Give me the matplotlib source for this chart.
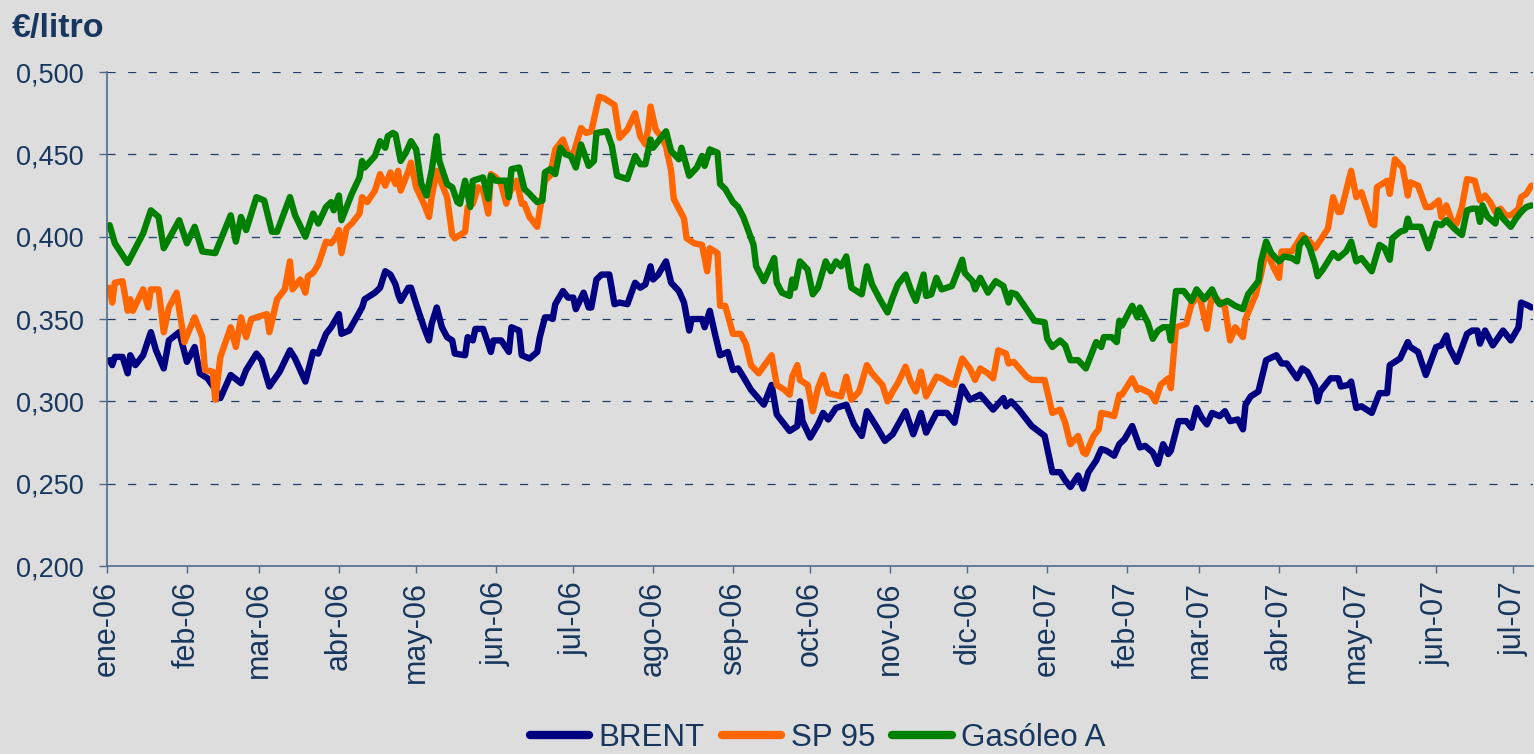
import matplotlib
matplotlib.use("Agg")
import matplotlib.pyplot as plt
import pandas as pd

# ---------------- data ----------------
brent_dates = [
 "2006-01-02","2006-01-03","2006-01-04","2006-01-07","2006-01-09","2006-01-10","2006-01-12","2006-01-15","2006-01-18","2006-01-20",
 "2006-01-23","2006-01-25","2006-01-29","2006-02-01","2006-02-04","2006-02-06","2006-02-09","2006-02-13","2006-02-14","2006-02-18",
 "2006-02-22","2006-02-24","2006-02-28","2006-03-02","2006-03-05","2006-03-09","2006-03-13","2006-03-15","2006-03-19","2006-03-22",
 "2006-03-24","2006-03-27","2006-03-29","2006-04-01","2006-04-02","2006-04-05","2006-04-10","2006-04-11","2006-04-15","2006-04-17",
 "2006-04-19","2006-04-21","2006-04-23","2006-04-24","2006-04-25","2006-04-28","2006-04-29","2006-05-01","2006-05-04","2006-05-06",
 "2006-05-07","2006-05-09","2006-05-11","2006-05-13","2006-05-15","2006-05-16","2006-05-20","2006-05-21","2006-05-23","2006-05-24",
 "2006-05-27","2006-05-30","2006-05-31","2006-06-03","2006-06-06","2006-06-07","2006-06-10","2006-06-11","2006-06-14","2006-06-17",
 "2006-06-18","2006-06-20","2006-06-22","2006-06-23","2006-06-24","2006-06-27","2006-06-29","2006-07-01","2006-07-02","2006-07-05",
 "2006-07-07","2006-07-08","2006-07-10","2006-07-12","2006-07-15","2006-07-17","2006-07-19","2006-07-22","2006-07-25","2006-07-27",
 "2006-07-29","2006-07-31","2006-08-01","2006-08-03","2006-08-06","2006-08-08","2006-08-11","2006-08-13","2006-08-15","2006-08-16",
 "2006-08-20","2006-08-21","2006-08-23","2006-08-25","2006-08-27","2006-08-30","2006-09-01","2006-09-03","2006-09-05","2006-09-08",
 "2006-09-13","2006-09-16","2006-09-18","2006-09-20","2006-09-23","2006-09-26","2006-09-27","2006-09-28","2006-10-01","2006-10-04",
 "2006-10-06","2006-10-08","2006-10-11","2006-10-15","2006-10-18","2006-10-21","2006-10-23","2006-10-27","2006-10-30","2006-11-02",
 "2006-11-07","2006-11-10","2006-11-13","2006-11-15","2006-11-19","2006-11-23","2006-11-26","2006-11-29","2006-12-02","2006-12-06",
 "2006-12-11","2006-12-15","2006-12-16","2006-12-18","2006-12-21","2006-12-26","2006-12-31","2007-01-03","2007-01-06","2007-01-08",
 "2007-01-10","2007-01-13","2007-01-15","2007-01-17","2007-01-20","2007-01-22","2007-01-24","2007-01-27","2007-01-29","2007-01-31",
 "2007-02-03","2007-02-06","2007-02-08","2007-02-11","2007-02-13","2007-02-15","2007-02-17","2007-02-18","2007-02-21","2007-02-24",
 "2007-02-26","2007-02-28","2007-03-02","2007-03-04","2007-03-06","2007-03-09","2007-03-11","2007-03-13","2007-03-16","2007-03-18",
 "2007-03-19","2007-03-21","2007-03-24","2007-03-27","2007-03-31","2007-04-02","2007-04-04","2007-04-08","2007-04-10","2007-04-12",
 "2007-04-15","2007-04-16","2007-04-17","2007-04-21","2007-04-24","2007-04-25","2007-04-28","2007-04-29","2007-05-01","2007-05-03",
 "2007-05-07","2007-05-10","2007-05-13","2007-05-14","2007-05-18","2007-05-21","2007-05-22","2007-05-25","2007-05-28","2007-06-01",
 "2007-06-03","2007-06-05","2007-06-06","2007-06-09","2007-06-13","2007-06-15","2007-06-17","2007-06-18","2007-06-20","2007-06-23",
 "2007-06-27","2007-06-30","2007-07-03","2007-07-04","2007-07-07","2007-07-08"]
brent_values = [
 0.325,0.322,0.327,0.327,0.317,0.328,0.322,0.328,0.342,0.331,
 0.320,0.337,0.342,0.324,0.333,0.317,0.314,0.305,0.302,0.316,
 0.311,0.319,0.329,0.325,0.309,0.318,0.331,0.326,0.312,0.330,
 0.329,0.341,0.345,0.353,0.341,0.343,0.357,0.362,0.366,0.369,
 0.379,0.377,0.371,0.365,0.361,0.369,0.369,0.359,0.345,0.337,
 0.347,0.357,0.345,0.339,0.337,0.329,0.328,0.339,0.337,0.344,
 0.344,0.330,0.337,0.337,0.330,0.345,0.343,0.328,0.326,0.330,
 0.339,0.351,0.351,0.350,0.359,0.367,0.363,0.363,0.356,0.366,
 0.357,0.357,0.374,0.377,0.377,0.359,0.360,0.359,0.372,0.369,
 0.371,0.382,0.374,0.377,0.385,0.372,0.367,0.360,0.343,0.350,
 0.350,0.345,0.355,0.341,0.328,0.330,0.319,0.320,0.315,0.307,
 0.298,0.310,0.292,0.288,0.282,0.285,0.300,0.288,0.278,0.286,
 0.293,0.289,0.296,0.298,0.286,0.279,0.294,0.284,0.276,0.280,
 0.294,0.280,0.293,0.281,0.293,0.293,0.287,0.309,0.301,0.304,
 0.295,0.302,0.297,0.300,0.295,0.285,0.279,0.257,0.257,0.252,
 0.248,0.255,0.247,0.257,0.264,0.271,0.270,0.267,0.274,0.277,
 0.285,0.272,0.273,0.269,0.262,0.274,0.268,0.270,0.288,0.288,
 0.284,0.296,0.290,0.286,0.293,0.291,0.294,0.288,0.289,0.283,
 0.298,0.303,0.306,0.325,0.328,0.323,0.323,0.314,0.320,0.318,
 0.309,0.300,0.306,0.314,0.314,0.309,0.310,0.312,0.296,0.297,
 0.293,0.305,0.305,0.322,0.326,0.336,0.333,0.330,0.316,0.333,
 0.334,0.340,0.333,0.324,0.341,0.343,0.343,0.335,0.343,0.334,
 0.343,0.337,0.345,0.360,0.358,0.357]

sp95_dates = [
 "2006-01-02","2006-01-03","2006-01-04","2006-01-07","2006-01-09","2006-01-10","2006-01-11","2006-01-15","2006-01-17","2006-01-18",
 "2006-01-21","2006-01-23","2006-01-25","2006-01-28","2006-01-31","2006-02-04","2006-02-07","2006-02-08","2006-02-11","2006-02-12",
 "2006-02-14","2006-02-18","2006-02-20","2006-02-22","2006-02-24","2006-02-26","2006-03-04","2006-03-05","2006-03-08","2006-03-11",
 "2006-03-13","2006-03-14","2006-03-17","2006-03-19","2006-03-20","2006-03-22","2006-03-24","2006-03-27","2006-03-29","2006-03-31",
 "2006-04-01","2006-04-02","2006-04-04","2006-04-06","2006-04-09","2006-04-10","2006-04-12","2006-04-15","2006-04-17","2006-04-19",
 "2006-04-21","2006-04-23","2006-04-24","2006-04-25","2006-04-28","2006-04-29","2006-05-01","2006-05-04","2006-05-06","2006-05-07",
 "2006-05-09","2006-05-11","2006-05-13","2006-05-15","2006-05-16","2006-05-20","2006-05-21","2006-05-23","2006-05-25","2006-05-27",
 "2006-05-29","2006-05-30","2006-06-01","2006-06-03","2006-06-05","2006-06-06","2006-06-09","2006-06-11","2006-06-12","2006-06-14",
 "2006-06-17","2006-06-18","2006-06-20","2006-06-22","2006-06-24","2006-06-27","2006-06-29","2006-07-01","2006-07-04","2006-07-06",
 "2006-07-08","2006-07-11","2006-07-13","2006-07-17","2006-07-19","2006-07-22","2006-07-25","2006-07-27","2006-07-29","2006-07-30",
 "2006-07-31","2006-08-02","2006-08-04","2006-08-06","2006-08-08","2006-08-09","2006-08-11","2006-08-13","2006-08-14","2006-08-17",
 "2006-08-20","2006-08-22","2006-08-23","2006-08-26","2006-08-27","2006-08-29","2006-09-01","2006-09-04","2006-09-06","2006-09-08",
 "2006-09-11","2006-09-16","2006-09-18","2006-09-21","2006-09-23","2006-09-24","2006-09-26","2006-09-27","2006-09-30","2006-10-02",
 "2006-10-04","2006-10-06","2006-10-08","2006-10-13","2006-10-15","2006-10-17","2006-10-20","2006-10-23","2006-10-25","2006-10-29",
 "2006-10-31","2006-11-02","2006-11-04","2006-11-07","2006-11-09","2006-11-11","2006-11-13","2006-11-15","2006-11-19","2006-11-21",
 "2006-11-24","2006-11-26","2006-11-29","2006-12-02","2006-12-04","2006-12-06","2006-12-09","2006-12-11","2006-12-13","2006-12-16",
 "2006-12-17","2006-12-19","2006-12-24","2006-12-26","2006-12-31","2007-01-03","2007-01-06","2007-01-08","2007-01-10","2007-01-13",
 "2007-01-15","2007-01-16","2007-01-19","2007-01-21","2007-01-22","2007-01-25","2007-01-27","2007-01-29","2007-01-30","2007-02-03",
 "2007-02-05","2007-02-06","2007-02-10","2007-02-12","2007-02-14","2007-02-17","2007-02-18","2007-02-20","2007-02-22","2007-02-24",
 "2007-02-26","2007-03-01","2007-03-04","2007-03-06","2007-03-08","2007-03-11","2007-03-13","2007-03-15","2007-03-18","2007-03-19",
 "2007-03-23","2007-03-25","2007-03-27","2007-03-30","2007-04-01","2007-04-02","2007-04-06","2007-04-10","2007-04-13","2007-04-15",
 "2007-04-18","2007-04-20","2007-04-22","2007-04-24","2007-04-25","2007-04-29","2007-05-01","2007-05-03","2007-05-07","2007-05-08",
 "2007-05-09","2007-05-13","2007-05-14","2007-05-16","2007-05-19","2007-05-21","2007-05-22","2007-05-25","2007-05-28","2007-05-30",
 "2007-06-02","2007-06-03","2007-06-05","2007-06-07","2007-06-09","2007-06-11","2007-06-13","2007-06-16","2007-06-18","2007-06-20",
 "2007-06-22","2007-06-24","2007-06-26","2007-06-28","2007-06-30","2007-07-03","2007-07-04","2007-07-06","2007-07-08"]
sp95_values = [
 0.369,0.360,0.372,0.373,0.355,0.362,0.355,0.368,0.357,0.368,
 0.368,0.342,0.357,0.366,0.336,0.351,0.339,0.319,0.318,0.301,
 0.327,0.345,0.333,0.351,0.339,0.350,0.353,0.342,0.362,0.368,
 0.385,0.368,0.374,0.366,0.376,0.378,0.383,0.397,0.396,0.400,
 0.404,0.390,0.405,0.408,0.414,0.424,0.421,0.428,0.438,0.431,
 0.439,0.432,0.440,0.428,0.440,0.445,0.430,0.420,0.412,0.424,
 0.440,0.432,0.424,0.401,0.399,0.403,0.418,0.420,0.430,0.428,
 0.414,0.438,0.436,0.432,0.420,0.426,0.434,0.420,0.420,0.412,
 0.406,0.416,0.434,0.437,0.453,0.459,0.450,0.450,0.466,0.463,
 0.464,0.485,0.484,0.480,0.460,0.465,0.475,0.461,0.456,0.465,
 0.479,0.465,0.461,0.455,0.440,0.423,0.417,0.411,0.399,0.396,
 0.395,0.379,0.393,0.390,0.358,0.358,0.341,0.341,0.335,0.322,
 0.317,0.328,0.310,0.307,0.304,0.315,0.322,0.313,0.310,0.294,
 0.308,0.316,0.305,0.303,0.315,0.301,0.306,0.322,0.317,0.310,
 0.300,0.306,0.311,0.321,0.312,0.306,0.318,0.303,0.315,0.314,
 0.311,0.310,0.326,0.320,0.313,0.320,0.317,0.314,0.331,0.329,
 0.323,0.324,0.315,0.313,0.313,0.293,0.295,0.287,0.274,0.279,
 0.269,0.268,0.279,0.283,0.293,0.292,0.291,0.304,0.304,0.314,
 0.307,0.308,0.305,0.300,0.310,0.314,0.308,0.345,0.346,0.347,
 0.359,0.365,0.344,0.365,0.362,0.357,0.337,0.345,0.339,0.350,
 0.365,0.377,0.392,0.381,0.375,0.391,0.391,0.401,0.397,0.393,
 0.400,0.405,0.424,0.415,0.415,0.440,0.424,0.427,0.408,0.407,
 0.430,0.434,0.426,0.447,0.442,0.425,0.433,0.431,0.418,0.418,
 0.422,0.412,0.419,0.410,0.408,0.418,0.435,0.434,0.422,0.425,
 0.421,0.415,0.417,0.413,0.413,0.417,0.424,0.426,0.431]

gasoleo_dates = [
 "2006-01-02","2006-01-04","2006-01-09","2006-01-15","2006-01-18","2006-01-21","2006-01-23","2006-01-29","2006-02-01","2006-02-04",
 "2006-02-07","2006-02-12","2006-02-18","2006-02-20","2006-02-22","2006-02-24","2006-02-28","2006-03-03","2006-03-06","2006-03-08",
 "2006-03-13","2006-03-15","2006-03-19","2006-03-22","2006-03-24","2006-03-27","2006-03-29","2006-03-30","2006-04-01","2006-04-02",
 "2006-04-06","2006-04-09","2006-04-10","2006-04-11","2006-04-15","2006-04-17","2006-04-19","2006-04-20","2006-04-22","2006-04-23",
 "2006-04-25","2006-04-27","2006-04-29","2006-05-01","2006-05-03","2006-05-05","2006-05-07","2006-05-09","2006-05-10","2006-05-13",
 "2006-05-15","2006-05-17","2006-05-18","2006-05-20","2006-05-22","2006-05-23","2006-05-27","2006-05-29","2006-05-30","2006-06-01",
 "2006-06-05","2006-06-06","2006-06-07","2006-06-10","2006-06-12","2006-06-14","2006-06-17","2006-06-19","2006-06-20","2006-06-22",
 "2006-06-24","2006-06-26","2006-06-28","2006-06-30","2006-07-02","2006-07-04","2006-07-07","2006-07-09","2006-07-10","2006-07-14",
 "2006-07-16","2006-07-18","2006-07-22","2006-07-25","2006-07-27","2006-07-29","2006-07-31","2006-08-01","2006-08-03","2006-08-06",
 "2006-08-08","2006-08-11","2006-08-12","2006-08-15","2006-08-18","2006-08-20","2006-08-21","2006-08-23","2006-08-26","2006-08-27",
 "2006-08-29","2006-09-01","2006-09-03","2006-09-05","2006-09-09","2006-09-10","2006-09-13","2006-09-17","2006-09-18","2006-09-20",
 "2006-09-23","2006-09-24","2006-09-25","2006-09-27","2006-09-30","2006-10-02","2006-10-04","2006-10-07","2006-10-09","2006-10-11",
 "2006-10-13","2006-10-15","2006-10-17","2006-10-21","2006-10-23","2006-10-25","2006-10-28","2006-10-31","2006-11-02","2006-11-04",
 "2006-11-07","2006-11-09","2006-11-11","2006-11-14","2006-11-15","2006-11-17","2006-11-19","2006-11-21","2006-11-25","2006-11-29",
 "2006-11-30","2006-12-03","2006-12-04","2006-12-06","2006-12-09","2006-12-12","2006-12-15","2006-12-17","2006-12-18","2006-12-20",
 "2006-12-24","2006-12-27","2006-12-31","2007-01-01","2007-01-03","2007-01-06","2007-01-08","2007-01-10","2007-01-13","2007-01-16",
 "2007-01-18","2007-01-20","2007-01-22","2007-01-23","2007-01-26","2007-01-28","2007-01-29","2007-01-30","2007-02-03","2007-02-05",
 "2007-02-06","2007-02-09","2007-02-11","2007-02-13","2007-02-15","2007-02-17","2007-02-18","2007-02-20","2007-02-23","2007-02-26",
 "2007-02-28","2007-03-03","2007-03-06","2007-03-08","2007-03-09","2007-03-12","2007-03-15","2007-03-18","2007-03-20","2007-03-23",
 "2007-03-24","2007-03-25","2007-03-27","2007-03-29","2007-04-01","2007-04-03","2007-04-06","2007-04-08","2007-04-09","2007-04-11",
 "2007-04-13","2007-04-15","2007-04-16","2007-04-18","2007-04-22","2007-04-24","2007-04-27","2007-04-29","2007-05-01","2007-05-03",
 "2007-05-07","2007-05-10","2007-05-12","2007-05-14","2007-05-15","2007-05-18","2007-05-20","2007-05-21","2007-05-22","2007-05-26",
 "2007-05-29","2007-06-01","2007-06-03","2007-06-05","2007-06-08","2007-06-11","2007-06-13","2007-06-15","2007-06-17","2007-06-18",
 "2007-06-19","2007-06-21","2007-06-24","2007-06-25","2007-06-27","2007-06-30","2007-07-02","2007-07-04","2007-07-06","2007-07-08"]
gasoleo_values = [
 0.407,0.396,0.384,0.402,0.416,0.412,0.393,0.410,0.396,0.406,
 0.391,0.390,0.413,0.397,0.412,0.404,0.424,0.422,0.403,0.403,
 0.424,0.413,0.400,0.414,0.408,0.418,0.421,0.416,0.425,0.410,
 0.426,0.436,0.446,0.442,0.449,0.458,0.454,0.461,0.463,0.462,
 0.446,0.451,0.458,0.453,0.432,0.425,0.440,0.461,0.446,0.432,
 0.430,0.421,0.420,0.434,0.418,0.434,0.436,0.423,0.437,0.434,
 0.434,0.424,0.441,0.442,0.429,0.426,0.421,0.422,0.439,0.441,
 0.438,0.454,0.450,0.449,0.442,0.456,0.443,0.446,0.463,0.464,
 0.455,0.437,0.435,0.449,0.444,0.444,0.459,0.454,0.458,0.464,
 0.452,0.447,0.454,0.437,0.442,0.449,0.443,0.453,0.451,0.432,
 0.429,0.421,0.418,0.412,0.395,0.382,0.373,0.387,0.372,0.366,
 0.364,0.374,0.369,0.385,0.380,0.365,0.369,0.385,0.379,0.385,
 0.382,0.388,0.369,0.365,0.382,0.371,0.362,0.354,0.363,0.371,
 0.377,0.368,0.361,0.377,0.364,0.365,0.375,0.368,0.370,0.386,
 0.378,0.373,0.368,0.375,0.366,0.373,0.370,0.360,0.366,0.365,
 0.356,0.349,0.348,0.338,0.333,0.337,0.334,0.325,0.325,0.320,
 0.328,0.336,0.333,0.339,0.339,0.336,0.349,0.346,0.358,0.351,
 0.357,0.348,0.338,0.343,0.345,0.345,0.337,0.367,0.367,0.361,
 0.368,0.362,0.368,0.361,0.359,0.361,0.358,0.356,0.365,0.371,
 0.373,0.385,0.397,0.390,0.385,0.388,0.387,0.385,0.395,0.399,
 0.393,0.383,0.376,0.380,0.390,0.387,0.391,0.397,0.385,0.387,
 0.379,0.395,0.393,0.386,0.399,0.403,0.404,0.411,0.406,0.406,
 0.393,0.408,0.407,0.410,0.405,0.401,0.416,0.417,0.417,0.409,
 0.419,0.412,0.408,0.416,0.411,0.406,0.411,0.415,0.418,0.419]

series_names = ["BRENT", "SP 95", "Gasóleo A"]
series_colors = ["#000080", "#FF6600", "#008000"]

month_ticks = ["2006-01-01","2006-02-01","2006-03-01","2006-04-01","2006-05-01","2006-06-01",
               "2006-07-01","2006-08-01","2006-09-01","2006-10-01","2006-11-01","2006-12-01",
               "2007-01-01","2007-02-01","2007-03-01","2007-04-01","2007-05-01","2007-06-01","2007-07-01"]
month_labels = ["ene-06","feb-06","mar-06","abr-06","may-06","jun-06","jul-06","ago-06","sep-06",
                "oct-06","nov-06","dic-06","ene-07","feb-07","mar-07","abr-07","may-07","jun-07","jul-07"]
y_ticks = [0.200, 0.250, 0.300, 0.350, 0.400, 0.450, 0.500]
y_labels = ["0,200", "0,250", "0,300", "0,350", "0,400", "0,450", "0,500"]

# ---------------- plot ----------------
BG = "#DDDDDD"
TXT = "#17375E"
SPINE = "#4F6B8C"
GRID = "#1F3F6B"

plt.rcParams["font.family"] = ["Liberation Sans", "DejaVu Sans"]

fig = plt.figure(figsize=(15.34, 7.54), dpi=100, facecolor=BG)
ax = fig.add_axes([0.0698, 0.2493, 0.9295, 0.6552], facecolor=BG)

all_dates = [brent_dates, sp95_dates, gasoleo_dates]
all_values = [brent_values, sp95_values, gasoleo_values]
for d, v, name, c in zip(all_dates, all_values, series_names, series_colors):
    ax.plot(pd.to_datetime(d), v, color=c, lw=4.6, label=name,
            solid_joinstyle="round", solid_capstyle="round")

ax.set_ylim(0.2, 0.5)
ax.set_xlim(pd.Timestamp("2006-01-01"), pd.Timestamp("2007-07-08 14:00"))

ax.set_yticks(y_ticks)
ax.set_yticklabels(y_labels)
ax.set_xticks(pd.to_datetime(month_ticks))
ax.set_xticklabels(month_labels, rotation=90, va="top", ha="center")

ax.tick_params(axis="y", direction="out", length=6, width=1, color=SPINE,
               labelsize=19.5, labelcolor=TXT, pad=11)
ax.tick_params(axis="x", direction="out", length=5, width=1, color=SPINE,
               labelsize=22, labelcolor=TXT, pad=6)

for g in y_ticks[1:]:
    ax.axhline(g, color=GRID, lw=0.9, linestyle=(0, (6.5, 10)), zorder=0.5)

for s in ["top", "right"]:
    ax.spines[s].set_visible(False)
for s in ["left", "bottom"]:
    ax.spines[s].set_color(SPINE)
    ax.spines[s].set_linewidth(1.2)

fig.text(0.008, 0.962, "€/litro", fontsize=24.5, fontweight="bold", color=TXT,
         ha="left", va="center")

leg = fig.legend(loc="center", bbox_to_anchor=(0.533, 0.021), ncol=3, frameon=False,
                 fontsize=22.5, handlelength=1.9, handletextpad=0.3, columnspacing=0.55,
                 borderpad=0, borderaxespad=0)
for t in leg.get_texts():
    t.set_color(TXT)
for l in leg.get_lines():
    l.set_linewidth(6)

fig.savefig("out.png", dpi=100, facecolor=BG)
